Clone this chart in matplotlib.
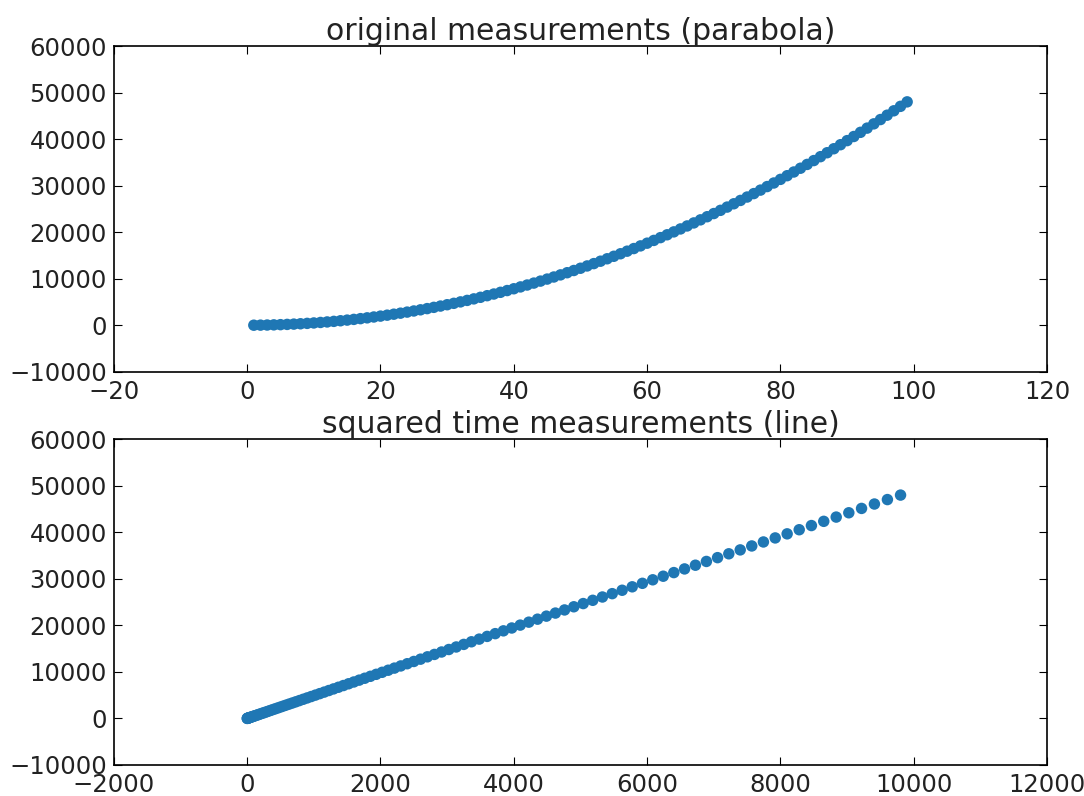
import matplotlib
matplotlib.use("Agg")
import matplotlib.pyplot as plt

# time steps and fall distance (d = 1/2 g t^2)
t = [1, 2, 3, 4, 5, 6, 7, 8, 9, 10, 11, 12, 13, 14, 15, 16, 17, 18, 19, 20,
     21, 22, 23, 24, 25, 26, 27, 28, 29, 30, 31, 32, 33, 34, 35, 36, 37, 38, 39, 40,
     41, 42, 43, 44, 45, 46, 47, 48, 49, 50, 51, 52, 53, 54, 55, 56, 57, 58, 59, 60,
     61, 62, 63, 64, 65, 66, 67, 68, 69, 70, 71, 72, 73, 74, 75, 76, 77, 78, 79, 80,
     81, 82, 83, 84, 85, 86, 87, 88, 89, 90, 91, 92, 93, 94, 95, 96, 97, 98, 99]

t_sq = [1, 4, 9, 16, 25, 36, 49, 64, 81, 100, 121, 144, 169, 196, 225, 256, 289, 324, 361, 400,
        441, 484, 529, 576, 625, 676, 729, 784, 841, 900, 961, 1024, 1089, 1156, 1225, 1296, 1369,
        1444, 1521, 1600, 1681, 1764, 1849, 1936, 2025, 2116, 2209, 2304, 2401, 2500, 2601, 2704,
        2809, 2916, 3025, 3136, 3249, 3364, 3481, 3600, 3721, 3844, 3969, 4096, 4225, 4356, 4489,
        4624, 4761, 4900, 5041, 5184, 5329, 5476, 5625, 5776, 5929, 6084, 6241, 6400, 6561, 6724,
        6889, 7056, 7225, 7396, 7569, 7744, 7921, 8100, 8281, 8464, 8649, 8836, 9025, 9216, 9409,
        9604, 9801]

dist = [4.9, 19.6, 44.1, 78.4, 122.5, 176.4, 240.1, 313.6, 396.9, 490.0,
        592.9, 705.6, 828.1, 960.4, 1102.5, 1254.4, 1416.1, 1587.6, 1768.9, 1960.0,
        2160.9, 2371.6, 2592.1, 2822.4, 3062.5, 3312.4, 3572.1, 3841.6, 4120.9, 4410.0,
        4708.9, 5017.6, 5336.1, 5664.4, 6002.5, 6350.4, 6708.1, 7075.6, 7452.9, 7840.0,
        8236.9, 8643.6, 9060.1, 9486.4, 9922.5, 10368.4, 10824.1, 11289.6, 11764.9, 12250.0,
        12744.9, 13249.6, 13764.1, 14288.4, 14822.5, 15366.4, 15920.1, 16483.6, 17056.9, 17640.0,
        18232.9, 18835.6, 19448.1, 20070.4, 20702.5, 21344.4, 21996.1, 22657.6, 23328.9, 24010.0,
        24700.9, 25401.6, 26112.1, 26832.4, 27562.5, 28302.4, 29052.1, 29811.6, 30580.9, 31360.0,
        32148.9, 32947.6, 33756.1, 34574.4, 35402.5, 36240.4, 37088.1, 37945.6, 38812.9, 39690.0,
        40576.9, 41473.6, 42380.1, 43296.4, 44222.5, 45158.4, 46104.1, 47059.6, 48024.9]

plt.rcParams['font.family'] = 'DejaVu Sans'
plt.rcParams['font.size'] = 17.5
plt.rcParams['xtick.direction'] = 'in'
plt.rcParams['ytick.direction'] = 'in'
plt.rcParams['xtick.top'] = True
plt.rcParams['ytick.right'] = True
plt.rcParams['xtick.major.size'] = 6
plt.rcParams['ytick.major.size'] = 6
plt.rcParams['xtick.major.pad'] = 6
plt.rcParams['ytick.major.pad'] = 5
plt.rcParams['axes.linewidth'] = 1.2
plt.rcParams['text.color'] = '#222222'
plt.rcParams['xtick.labelcolor'] = '#222222'
plt.rcParams['ytick.labelcolor'] = '#222222'

fig = plt.figure(figsize=(10.84, 7.96), dpi=100)
ax1 = fig.add_axes([0.105, 0.533, 0.861, 0.409])
ax2 = fig.add_axes([0.105, 0.039, 0.861, 0.409])

ax1.scatter(t, dist, s=68, color='#1f77b4', edgecolors='none')
ax1.set_title('original measurements (parabola)', fontsize=21.5, pad=4)
ax1.set_xlim(-20, 120)
ax1.set_ylim(-10000, 60000)
ax1.set_xticks(range(-20, 121, 20))
ax1.set_yticks(range(-10000, 60001, 10000))
ax1.set_xticklabels(['\u221220', '0', '20', '40', '60', '80', '100', '120'])

ax2.scatter(t_sq, dist, s=68, color='#1f77b4', edgecolors='none')
ax2.set_title('squared time measurements (line)', fontsize=21.5, pad=4)
ax2.set_xlim(-2000, 12000)
ax2.set_ylim(-10000, 60000)
ax2.set_xticks(range(-2000, 12001, 2000))
ax2.set_yticks(range(-10000, 60001, 10000))
ax2.set_xticklabels(['\u22122000', '0', '2000', '4000', '6000', '8000', '10000', '12000'])

for ax in (ax1, ax2):
    ax.set_yticklabels(['\u221210000', '0', '10000', '20000', '30000', '40000', '50000', '60000'])

fig.savefig('out.png', dpi=100)
